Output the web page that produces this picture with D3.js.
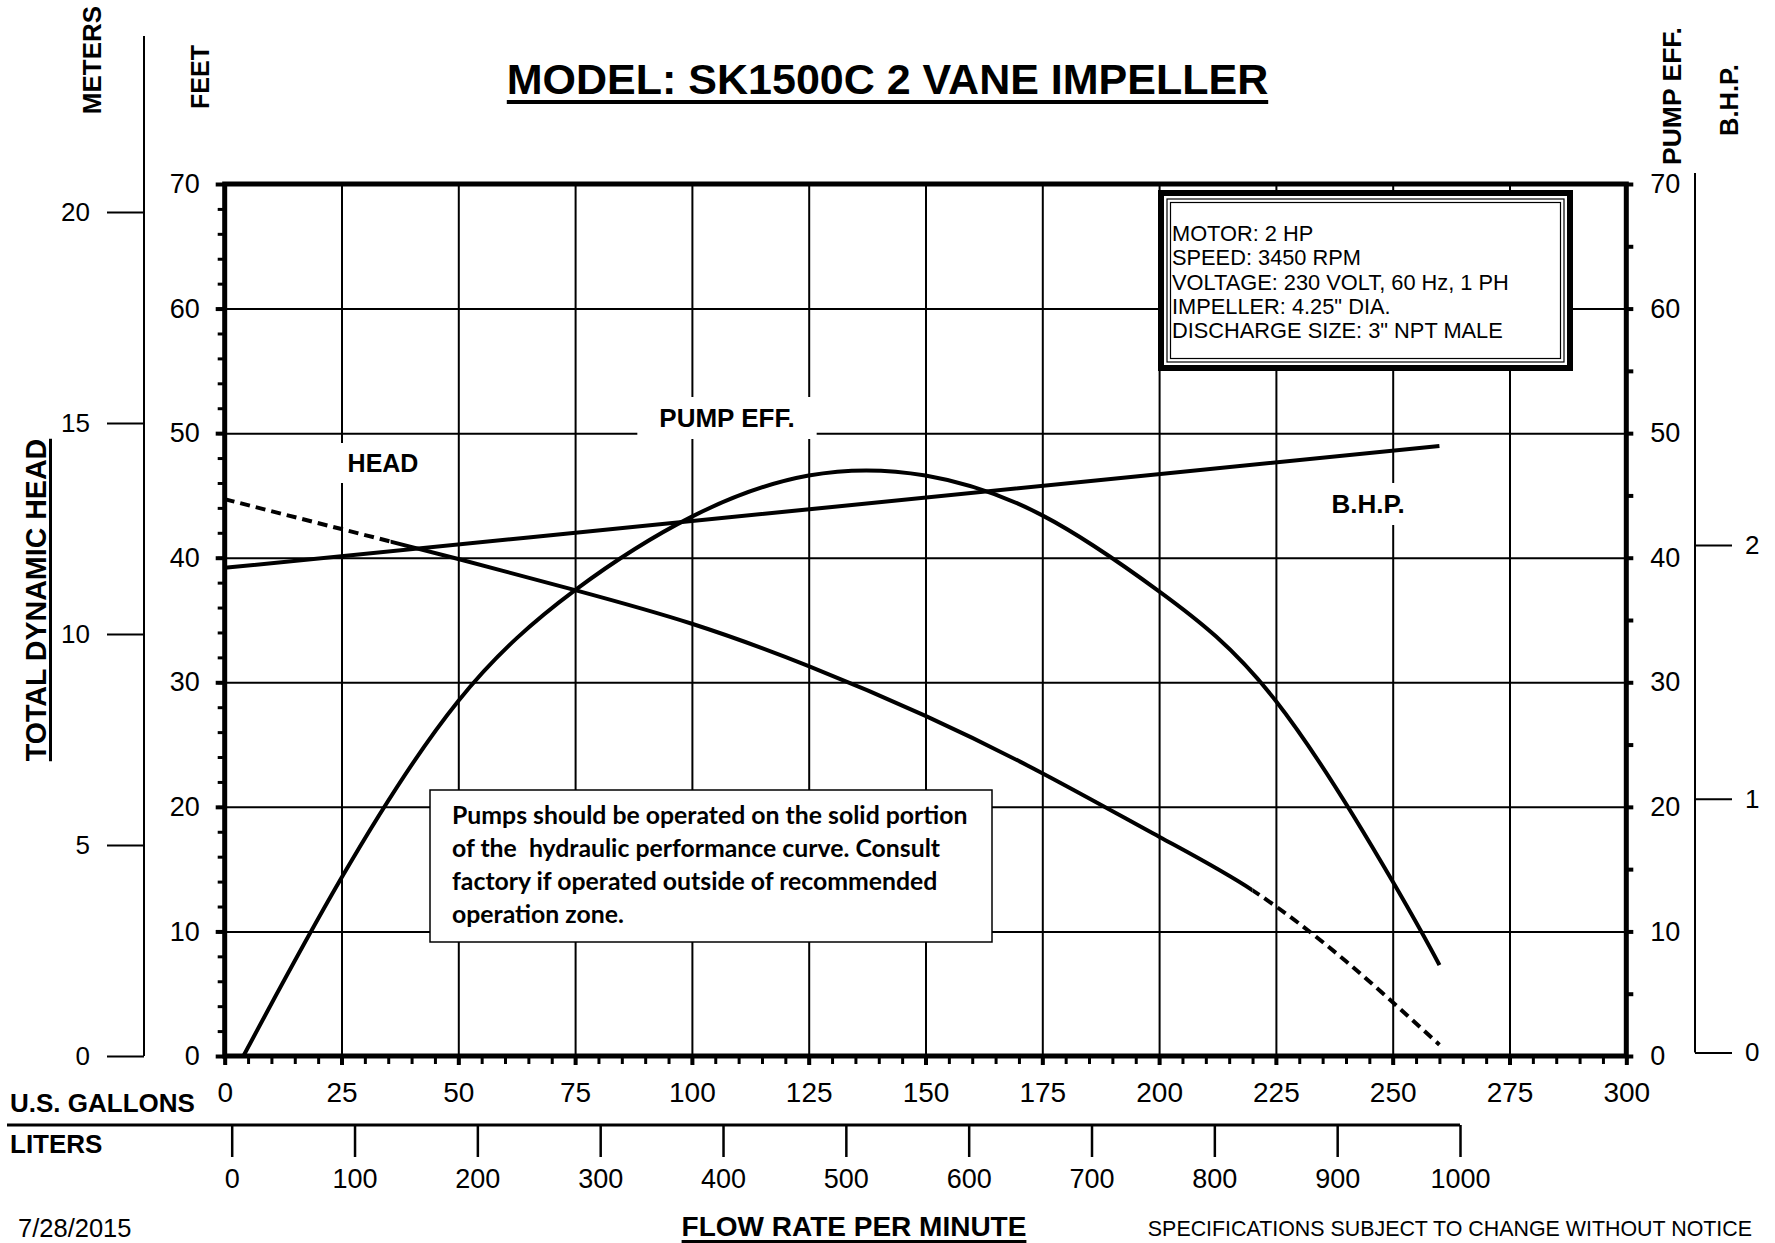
<!DOCTYPE html>
<html><head><meta charset="utf-8">
<script src="https://cdn.jsdelivr.net/npm/d3@7"></script>
<style>
html,body{margin:0;padding:0;background:#fff;}
svg{display:block;}
text{font-family:"Liberation Sans",Arial,sans-serif;fill:#000;}
</style></head>
<body>
<svg id="chart" width="1775" height="1243"></svg>
<script>
// ---------- DATA ----------
const galTicks = [0,25,50,75,100,125,150,175,200,225,250,275,300];
const literTicks = [0,100,200,300,400,500,600,700,800,900,1000];
const feetTicks = [0,10,20,30,40,50,60,70];
const meterTicks = [0,5,10,15,20];
const bhpTicks = [0,1,2];

// HEAD (feet) vs flow (US gal/min)
const headFlow = [0,25,50,75,100,125,150,175,200,220,240,260];
const headFeet = [44.7,42.3,39.9,37.4,34.7,31.3,27.3,22.7,17.6,13.3,7.6,0.9];
const headSolidRange = [35.5,220]; // solid portion of curve

// PUMP EFF (%) vs flow
const effFlow = [4,25,50,75,100,125,150,175,200,225,250,260];
const effPct  = [0,14.3,28.5,37.4,43.3,46.6,46.6,43.4,37.3,28.5,14.0,7.3];

// B.H.P. vs flow
const bhpFlow = [0,65,130,195,260];
const bhpHp   = [1.91,2.03,2.15,2.27,2.39];

const specLines = ["MOTOR: 2 HP","SPEED: 3450 RPM","VOLTAGE: 230 VOLT, 60 Hz, 1 PH","IMPELLER: 4.25\" DIA.","DISCHARGE SIZE: 3\" NPT MALE"];
const warnLines = ["Pumps should be operated on the solid portion","of the  hydraulic performance curve. Consult","factory if operated outside of recommended","operation zone."];

// ---------- SCALES ----------
const X0=224.7, X1=1626.3, Y0=1056, Y1=184;
const x = d3.scaleLinear().domain([0,300]).range([X0,X1]);
const y = d3.scaleLinear().domain([0,70]).range([Y0,Y1]);
const m = d3.scaleLinear().domain([0,20]).range([1056,212]);
const b = d3.scaleLinear().domain([0,2]).range([1052.5,545]);
const L = d3.scaleLinear().domain([0,1000]).range([231.7,1460]);

const svg = d3.select("#chart");
svg.append("rect").attr("width",1775).attr("height",1243).attr("fill","#fff");

// ---------- GRID ----------
const grid = svg.append("g");
grid.append("g").attr("transform",`translate(0,${Y0})`)
  .call(d3.axisBottom(x).tickValues(galTicks.slice(1,-1)).tickSize(-(Y0-Y1)).tickFormat(""))
  .call(g=>g.select(".domain").remove())
  .selectAll("line").attr("stroke","#000").attr("stroke-width",2);
grid.append("g").attr("transform",`translate(${X0},0)`)
  .call(d3.axisLeft(y).tickValues(feetTicks.slice(1,-1)).tickSize(-(X1-X0)).tickFormat(""))
  .call(g=>g.select(".domain").remove())
  .selectAll("line").attr("stroke","#000").attr("stroke-width",2);

// minor ticks
function ticks(axis, tr, w){
  svg.append("g").attr("transform",tr).call(axis)
    .call(g=>g.select(".domain").remove())
    .selectAll("line").attr("stroke","#000").attr("stroke-width",w);
}
ticks(d3.axisLeft(y).tickValues(d3.range(0,71,2)).tickSize(7).tickFormat(""), `translate(${X0},0)`, 3);
ticks(d3.axisLeft(y).tickValues(feetTicks).tickSize(9).tickFormat(""), `translate(${X0},0)`, 4);
ticks(d3.axisBottom(x).tickValues(d3.range(0,301,5)).tickSize(8).tickFormat(""), `translate(0,${Y0})`, 3);
ticks(d3.axisBottom(x).tickValues(galTicks).tickSize(9).tickFormat(""), `translate(0,${Y0})`, 4);
ticks(d3.axisRight(y).tickValues(d3.range(0,71,5)).tickSize(7).tickFormat(""), `translate(${X1},0)`, 4);

// frame
svg.append("rect").attr("x",X0).attr("y",Y1).attr("width",X1-X0).attr("height",Y0-Y1)
  .attr("fill","none").attr("stroke","#000").attr("stroke-width",5);

// ---------- AXIS LABELS ----------
const fmt = d3.format("d");
function labels(axis, tr, size){
  const g = svg.append("g").attr("transform",tr).call(axis.tickFormat(fmt));
  g.select(".domain").remove();
  g.selectAll("text").attr("font-size",size).attr("font-family",'"Liberation Sans",Arial,sans-serif').attr("fill","#000");
  g.selectAll("line").attr("stroke","#000").attr("stroke-width",2);
  g.attr("font-size",null).attr("font-family",null);
  return g;
}
labels(d3.axisLeft(y).tickValues(feetTicks).tickSize(0).tickPadding(25), `translate(${X0},0)`, 27);
labels(d3.axisRight(y).tickValues(feetTicks).tickSize(0).tickPadding(24), `translate(${X1},0)`, 27);
labels(d3.axisBottom(x).tickValues(galTicks).tickSize(0).tickPadding(26), `translate(0,${Y0})`, 28);

// meters axis
svg.append("line").attr("x1",144).attr("x2",144).attr("y1",36).attr("y2",m(0)).attr("stroke","#000").attr("stroke-width",2);
labels(d3.axisLeft(m).tickValues(meterTicks).tickSize(37).tickPadding(17), `translate(144,0)`, 26);

// BHP axis
svg.append("line").attr("x1",1695).attr("x2",1695).attr("y1",173).attr("y2",b(0)).attr("stroke","#000").attr("stroke-width",2);
labels(d3.axisRight(b).tickValues(bhpTicks).tickSize(37).tickPadding(13), `translate(1695,0)`, 26);

// liters axis
svg.append("line").attr("x1",7).attr("x2",L(1000)).attr("y1",1125).attr("y2",1125).attr("stroke","#000").attr("stroke-width",3);
const lg = labels(d3.axisBottom(L).tickValues(literTicks).tickSize(32).tickPadding(12), `translate(0,1125)`, 27);
lg.selectAll("line").attr("stroke-width",2.5);

// ---------- CURVES ----------
const plot = svg.append("g");
const defs = svg.append("defs");
defs.append("clipPath").attr("id","solidClip").append("rect")
  .attr("x",x(headSolidRange[0])).attr("y",0).attr("width",x(headSolidRange[1])-x(headSolidRange[0])).attr("height",1243);
const dc = defs.append("clipPath").attr("id","dashClip");
dc.append("rect").attr("x",0).attr("y",0).attr("width",x(headSolidRange[0])).attr("height",1243);
dc.append("rect").attr("x",x(headSolidRange[1])).attr("y",0).attr("width",1775-x(headSolidRange[1])).attr("height",1243);

const lineH = d3.line().x((d,i)=>x(headFlow[i])).y(d=>y(d)).curve(d3.curveNatural);
plot.append("path").attr("d",lineH(headFeet)).attr("fill","none").attr("stroke","#000").attr("stroke-width",4).attr("clip-path","url(#solidClip)");
plot.append("path").attr("d",lineH(headFeet)).attr("fill","none").attr("stroke","#000").attr("stroke-width",4)
  .attr("stroke-dasharray","10,6").attr("clip-path","url(#dashClip)");

const lineE = d3.line().x((d,i)=>x(effFlow[i])).y(d=>y(d)).curve(d3.curveNatural);
plot.append("path").attr("d",lineE(effPct)).attr("fill","none").attr("stroke","#000").attr("stroke-width",4);

const lineB = d3.line().x((d,i)=>x(bhpFlow[i])).y(d=>b(d));
plot.append("path").attr("d",lineB(bhpHp)).attr("fill","none").attr("stroke","#000").attr("stroke-width",4);

// ---------- CURVE LABELS (with white backgrounds) ----------
function boxedLabel(txt, cx, base, size, padX, padY){
  const g = svg.append("g");
  const t = g.append("text").attr("x",cx).attr("y",base).attr("text-anchor","middle")
    .attr("font-size",size).attr("font-weight","bold").text(txt);
  const bb = t.node().getBBox();
  g.insert("rect","text").attr("x",bb.x-padX).attr("y",bb.y-padY).attr("width",bb.width+2*padX).attr("height",bb.height+2*padY).attr("fill","#fff");
}
boxedLabel("HEAD", 383, 472, 25, 8, 6);
boxedLabel("PUMP EFF.", 727, 427, 26, 22, 6);
boxedLabel("B.H.P.", 1368, 513, 26, 10, 6);

// ---------- SPEC BOX ----------
const sb = {x:1158, y:190, w:415, h:181};
svg.append("rect").attr("x",sb.x+3).attr("y",sb.y+3).attr("width",sb.w-6).attr("height",sb.h-6).attr("fill","#fff").attr("stroke","#000").attr("stroke-width",6);
svg.append("rect").attr("x",sb.x+9).attr("y",sb.y+9).attr("width",sb.w-18).attr("height",sb.h-18).attr("fill","none").attr("stroke","#000").attr("stroke-width",1.2);
svg.append("rect").attr("x",sb.x+12.5).attr("y",sb.y+12.5).attr("width",sb.w-25).attr("height",sb.h-25).attr("fill","none").attr("stroke","#000").attr("stroke-width",1.2);
svg.append("g").selectAll("text").data(specLines).join("text")
  .attr("x",1172).attr("y",(d,i)=>241+i*24.3).attr("font-size",21.8).text(d=>d);

// ---------- WARNING BOX ----------
svg.append("rect").attr("x",430).attr("y",790).attr("width",562).attr("height",152).attr("fill","#fff").attr("stroke","#000").attr("stroke-width",1.5);
svg.append("g").selectAll("text").data(warnLines).join("text")
  .attr("x",452).attr("y",(d,i)=>824+i*33).attr("font-size",24.8).attr("font-weight","bold")
  .style("font-family","Lato, 'Open Sans', sans-serif").attr("xml:space","preserve").style("white-space","pre").text(d=>d);

// ---------- TITLES ----------
const title = svg.append("text").attr("x",887.5).attr("y",94).attr("text-anchor","middle")
  .attr("font-size",43).attr("font-weight","bold").text("MODEL: SK1500C 2 VANE IMPELLER");
const tb = title.node().getBBox();
svg.append("rect").attr("x",tb.x).attr("y",100).attr("width",tb.width).attr("height",4).attr("fill","#000");

function rotLabel(txt, bx, cy, size, underline){
  const t = svg.append("text").attr("transform",`translate(${bx},${cy}) rotate(-90)`).attr("text-anchor","middle")
    .attr("font-size",size).attr("font-weight","bold").text(txt);
  if(underline){
    const w = t.node().getComputedTextLength();
    svg.append("rect").attr("x",bx+3).attr("y",cy-w/2).attr("width",3).attr("height",w).attr("fill","#000");
  }
}
rotLabel("METERS", 101, 60, 26);
rotLabel("FEET", 209, 77, 25);
rotLabel("PUMP EFF.", 1681, 96, 26.5);
rotLabel("B.H.P.", 1738, 100, 25.5);
rotLabel("TOTAL DYNAMIC HEAD", 46, 600, 28.6, true);

svg.append("text").attr("x",10).attr("y",1112).attr("font-size",26).attr("font-weight","bold").text("U.S. GALLONS");
svg.append("text").attr("x",10).attr("y",1153).attr("font-size",26).attr("font-weight","bold").text("LITERS");
svg.append("text").attr("x",18).attr("y",1237).attr("font-size",25.5).text("7/28/2015");
const fr = svg.append("text").attr("x",854).attr("y",1236).attr("text-anchor","middle").attr("font-size",28).attr("font-weight","bold").text("FLOW RATE PER MINUTE");
const fb = fr.node().getBBox();
svg.append("rect").attr("x",fb.x).attr("y",1240).attr("width",fb.width).attr("height",3).attr("fill","#000");
svg.append("text").attr("x",1752).attr("y",1236).attr("text-anchor","end").attr("font-size",21.4).text("SPECIFICATIONS SUBJECT TO CHANGE WITHOUT NOTICE");
</script>
</body></html>
